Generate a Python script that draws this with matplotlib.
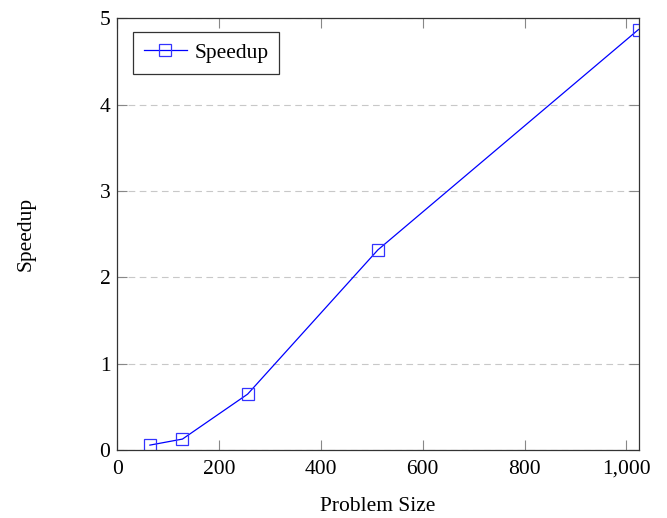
import numpy as np
import matplotlib
matplotlib.use('Agg')
import matplotlib.pyplot as plt

problem_size = [64, 128, 256, 512, 1024]
speedup = [0.06, 0.13, 0.65, 2.32, 4.87]

plt.rcParams['font.family'] = ['Liberation Serif', 'DejaVu Serif']
plt.rcParams['font.size'] = 15.5

fig = plt.figure(figsize=(6.67, 5.18), dpi=100)
ax = fig.add_axes([0.1759, 0.1307, 0.7814, 0.834])

ax.plot(problem_size, speedup, color='#0000ff', lw=0.9, marker='s', ms=8,
        mfc='none', mec='#3333ff', mew=0.9, label='Speedup')

ax.set_xlim(0, 1024)
ax.set_ylim(0, 5)
ax.set_xticks([0, 200, 400, 600, 800, 1000])
ax.set_xticklabels(['0', '200', '400', '600', '800', '1,000'])
ax.set_yticks([0, 1, 2, 3, 4, 5])

ax.yaxis.grid(True, ls=(0, (6, 4)), color='#c8c8c8', lw=0.8)
ax.tick_params(direction='in', length=7, color='#888888', width=0.8,
               top=True, right=True, labelsize=15.5, pad=5)
ax.tick_params(axis='x', pad=7)
for s in ax.spines.values():
    s.set_linewidth(0.9)
    s.set_color('#333333')

ax.set_xlabel('Problem Size', fontsize=15.5, labelpad=13)
ax.set_ylabel('Speedup', fontsize=15.5, labelpad=46)

leg = ax.legend(loc='upper left', bbox_to_anchor=(0.030, 0.968), fancybox=False,
                edgecolor='#333333', framealpha=1, fontsize=15.5,
                handlelength=2.0, borderpad=0.5, handletextpad=0.35,
                borderaxespad=0)
leg.get_frame().set_linewidth(0.9)

fig.savefig('out.png', dpi=100)
